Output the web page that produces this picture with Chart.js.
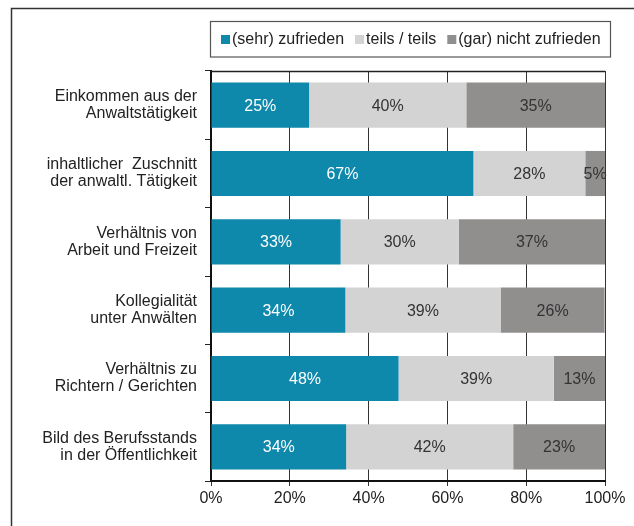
<!DOCTYPE html>
<html>
<head>
<meta charset="utf-8">
<script src="https://cdn.jsdelivr.net/npm/chart.js@4.4.1/dist/chart.umd.min.js"></script>
<style>
  html, body { margin: 0; padding: 0; background: #fff; }
  #wrap { position: relative; width: 634px; height: 526px; }
</style>
</head>
<body>
<div id="wrap"><canvas id="myChart"></canvas></div>
<script>
// Daten
const kategorien = [
  ['Einkommen aus der', 'Anwaltstätigkeit'],
  ['inhaltlicher  Zuschnitt', 'der anwaltl. Tätigkeit'],
  ['Verhältnis von', 'Arbeit und Freizeit'],
  ['Kollegialität', 'unter Anwälten'],
  ['Verhältnis zu', 'Richtern / Gerichten'],
  ['Bild des Berufsstands', 'in der Öffentlichkeit']
];
const zufrieden = [24.9, 66.6, 32.9, 34.1, 47.6, 34.3];
const teils = [39.9, 28.4, 30.0, 39.4, 39.4, 42.4];
const nichtZufrieden = [35.2, 5.0, 37.1, 26.4, 13.0, 23.3];
const serienNamen = ['(sehr) zufrieden', 'teils / teils', '(gar) nicht zufrieden'];
const xTicks = [0, 20, 40, 60, 80, 100];

const FONT = '"Liberation Sans", Arial, sans-serif';
const FS = 16;
const farben = ['#0E88AB', '#D3D3D3', '#918E8E'];
const textFarben = ['#ffffff', '#333333', '#333333'];

// Rahmen, Legende und Werte
const extras = {
  id: 'extras',
  beforeDraw(chart) {
    const ctx = chart.ctx;
    ctx.save();
    ctx.strokeStyle = '#333';
    ctx.lineWidth = 1.5;
    ctx.beginPath();
    ctx.moveTo(11.5, 526);
    ctx.lineTo(11.5, 8.5);
    ctx.lineTo(634, 8.5);
    ctx.stroke();
    ctx.restore();
  },
  afterDraw(chart) {
    const ctx = chart.ctx;
    const area = chart.chartArea;
    ctx.save();
    // obere Linie des Diagramms
    ctx.strokeStyle = '#222';
    ctx.lineWidth = 1.5;
    ctx.beginPath();
    ctx.moveTo(area.left, area.top + 0.5);
    ctx.lineTo(area.right, area.top + 0.5);
    ctx.stroke();

    // Legende
    ctx.strokeStyle = '#555';
    ctx.lineWidth = 1.2;
    ctx.strokeRect(area.left - 0.5, 21.5, 400, 35.5);
    ctx.font = FS + 'px ' + FONT;
    ctx.textBaseline = 'middle';
    ctx.textAlign = 'left';
    let x = area.left + 10;
    chart.data.datasets.forEach(function (ds) {
      ctx.fillStyle = ds.backgroundColor;
      ctx.fillRect(x, 35, 9, 9);
      ctx.fillStyle = '#222';
      ctx.fillText(ds.label, x + 11, 40);
      x += 11 + ctx.measureText(ds.label).width + 11;
    });

    // Werte in den Balken
    ctx.textAlign = 'center';
    chart.data.datasets.forEach(function (ds, i) {
      chart.getDatasetMeta(i).data.forEach(function (bar, j) {
        const p = bar.getCenterPoint();
        ctx.fillStyle = textFarben[i];
        ctx.fillText(Math.round(ds.data[j]) + '%', p.x, p.y + 1);
      });
    });
    ctx.restore();
  }
};

const grafico = document.getElementById('myChart');
new Chart(grafico, {
  type: 'bar',
  data: {
    labels: kategorien,
    datasets: [
      { label: serienNamen[0], data: zufrieden, backgroundColor: farben[0] },
      { label: serienNamen[1], data: teils, backgroundColor: farben[1] },
      { label: serienNamen[2], data: nichtZufrieden, backgroundColor: farben[2] }
    ]
  },
  options: {
    indexAxis: 'y',
    responsive: true,
    maintainAspectRatio: false,
    animation: false,
    categoryPercentage: 0.66,
    barPercentage: 1,
    layout: { padding: { top: 71, right: 29, bottom: 0, left: 0 } },
    plugins: {
      legend: { display: false },
      tooltip: { enabled: false }
    },
    scales: {
      x: {
        stacked: true,
        min: 0,
        max: 100,
        afterBuildTicks: function (scale) {
          scale.ticks = xTicks.map(function (v) { return { value: v }; });
        },
        afterFit: function (scale) { scale.height = 45; },
        grid: { color: '#333', lineWidth: 1, drawTicks: true, tickLength: 5 },
        border: { display: true, color: '#111', width: 2 },
        ticks: {
          padding: 3,
          color: '#222',
          font: { family: FONT, size: FS },
          callback: function (v) { return v + '%'; }
        }
      },
      y: {
        stacked: true,
        afterFit: function (scale) { scale.width = 211; },
        grid: { drawOnChartArea: false, drawTicks: true, tickLength: 6, color: '#222', offset: true },
        border: { display: true, color: '#111', width: 2 },
        ticks: {
          padding: 8,
          color: '#222',
          font: { family: FONT, size: FS, lineHeight: 1.07 }
        }
      }
    }
  },
  plugins: [extras]
});
</script>
</body>
</html>
